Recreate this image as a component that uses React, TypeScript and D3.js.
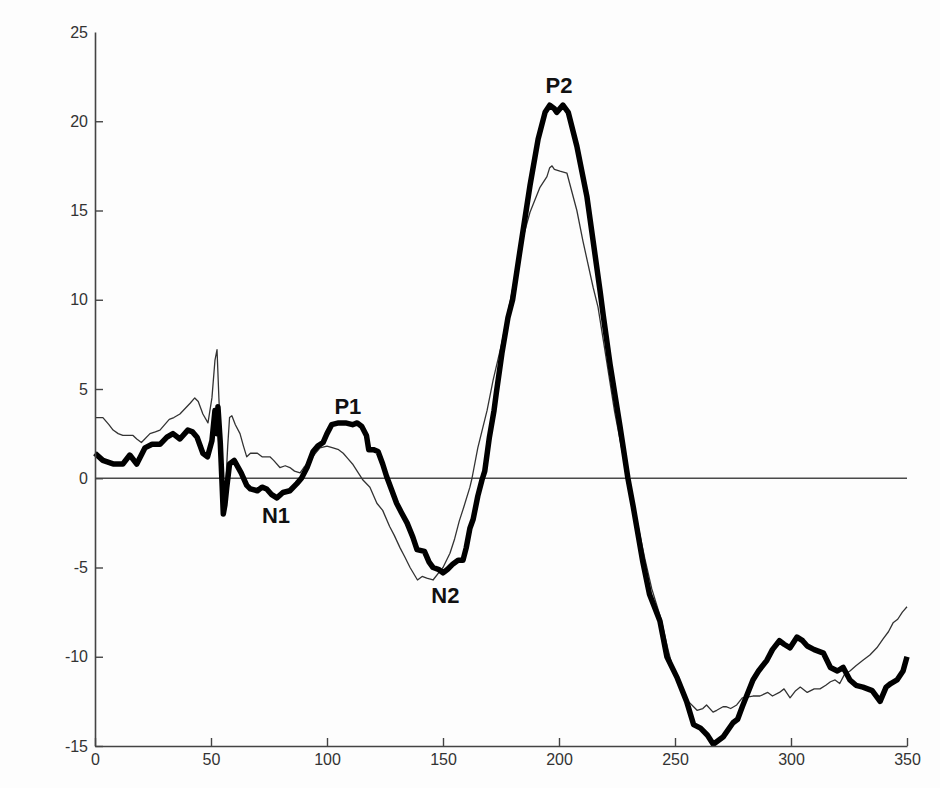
import { useEffect, useRef } from 'react';
import * as d3 from 'd3';

// [latency (ms), amplitude]
const thickWave: [number, number][] = [
  [0, 1.4], [3.4, 1.0], [7.8, 0.8], [12, 0.8], [15, 1.3], [18, 0.8], [21.5, 1.7], [24.6, 1.9],
  [28, 1.9], [31, 2.3], [33.6, 2.5], [36.6, 2.2], [40, 2.7], [42, 2.6], [44, 2.3], [46.5, 1.4],
  [48.5, 1.2], [50.4, 2.1], [51.7, 3.8], [52.5, 2.5], [53, 4.0], [54, 2.0], [54.7, -0.1], [55.3, -2.0],
  [56, -1.5], [56.8, -0.5], [58, 0.8], [60, 1.0], [63, 0.3], [65.4, -0.4], [67, -0.6], [70, -0.7],
  [72, -0.5], [74, -0.6], [76, -0.9], [78.4, -1.1], [81, -0.8], [84, -0.7], [87, -0.3], [89, 0.0],
  [91.4, 0.6], [94, 1.5], [96, 1.8], [98.3, 2.0], [100, 2.5], [102, 3.0], [105, 3.1], [108, 3.1],
  [111, 3.0], [113, 3.1], [115, 2.9], [117, 2.4], [118, 1.6], [120, 1.6], [122, 1.5], [124, 0.8],
  [125.7, 0.1], [128, -0.7], [130, -1.4], [132, -1.9], [134.5, -2.5], [137, -3.3], [138.8, -4.0],
  [142, -4.1], [144, -4.7], [145.7, -5.0], [148, -5.1], [150, -5.3], [152, -5.1], [154.3, -4.8],
  [156.5, -4.6], [158.6, -4.6], [160, -3.9], [161.6, -2.8], [163, -2.3], [165, -1.0], [166.8, -0.1],
  [168, 0.4], [170, 2.3], [172, 3.8], [173, 4.8], [175.4, 7.0], [178, 9.0], [180, 10.0], [183, 12.6],
  [187.5, 16.4], [191, 19.0], [194, 20.5], [196, 20.9], [198, 20.7], [199, 20.5], [201.7, 20.9],
  [204, 20.5], [207.7, 18.6], [212, 15.8], [214.7, 13.3], [217.7, 10.5], [219, 9.2], [222, 6.4],
  [226.3, 2.9], [229.7, 0.0], [232, -1.6], [236, -4.6], [239, -6.5], [243.5, -8.0], [246.5, -10.0],
  [251, -11.2], [255, -12.5], [258, -13.8], [261, -14.0], [264, -14.4], [266.5, -14.9], [270.7, -14.5],
  [275, -13.7], [277, -13.5], [279, -12.8], [283.6, -11.3], [286, -10.8], [289.6, -10.2], [292, -9.6],
  [295, -9.1], [297, -9.3], [299.6, -9.5], [302.6, -8.9], [305, -9.1], [307, -9.4], [310, -9.6],
  [314, -9.8], [317, -10.6], [320, -10.8], [322.5, -10.6], [325.4, -11.3], [328, -11.6], [331, -11.7],
  [335, -11.9], [338.4, -12.5], [341, -11.7], [343, -11.5], [345.7, -11.3], [348.3, -10.8], [350, -10.0],
];

const thinWave: [number, number][] = [
  [0, 3.4], [3.4, 3.4], [6, 3.0], [7.8, 2.7], [10, 2.5], [12, 2.4], [16.4, 2.4], [18, 2.2], [20, 2.0],
  [23.7, 2.5], [26, 2.6], [28, 2.7], [32, 3.3], [34, 3.4], [36.6, 3.6], [41, 4.2], [43, 4.5], [44.5, 4.3],
  [46.5, 3.6], [48.7, 3.1], [50.4, 4.5], [51.7, 6.6], [52.6, 7.2], [53.4, 4.5], [54.7, 0.8], [55.5, -1.2],
  [56.3, -0.5], [57.2, 1.8], [58, 3.4], [59, 3.5], [60.5, 3.0], [62.5, 2.5], [64, 1.8], [65.4, 1.2],
  [67, 1.4], [70, 1.4], [72, 1.2], [75.4, 1.2], [77, 1.0], [79.7, 0.6], [82, 0.7], [84, 0.6], [86, 0.4],
  [88.4, 0.3], [90, 0.6], [92.7, 1.0], [95, 1.4], [97, 1.7], [100, 1.8], [102.6, 1.7], [105, 1.6],
  [107, 1.4], [109, 1.1], [111, 0.8], [113, 0.4], [115.5, -0.1], [118.5, -0.5], [121.5, -1.4],
  [124, -1.8], [127, -2.7], [129, -3.2], [131.5, -3.9], [133.5, -4.4], [135.8, -5.0], [139, -5.7],
  [141, -5.5], [143, -5.6], [145.7, -5.7], [148.7, -5.2], [150, -5.0], [153, -4.2], [155, -3.4],
  [157, -2.4], [159, -1.6], [161.6, -0.5], [162.5, 0.0], [165, 1.7], [169, 3.8], [171.6, 5.5],
  [175.4, 7.6], [178, 9.3], [180, 10.6], [183, 12.8], [187.5, 14.9], [191.8, 16.3], [194.8, 16.9],
  [196, 17.4], [197, 17.5], [198, 17.3], [200.4, 17.2], [203.4, 17.1], [207.7, 15.0], [210.3, 13.3],
  [214.7, 10.7], [216.8, 9.6], [220, 7.0], [224, 3.7], [229.5, 0.0], [233, -2.0], [237, -4.5],
  [240, -6.2], [244, -7.9], [247, -9.6], [249, -10.6], [252, -11.6], [255, -12.4], [258, -12.8],
  [259.5, -13.0], [262, -12.9], [263.6, -12.7], [266.4, -13.1], [268, -13.0], [270.7, -12.8],
  [272, -12.8], [274, -12.9], [276.6, -12.7], [279, -12.3], [283.6, -12.2], [286.6, -12.2], [290, -12.0],
  [292, -12.2], [295, -12.0], [297, -11.8], [299.6, -12.3], [302, -11.9], [304, -11.7], [307, -12.0],
  [310, -11.8], [312.5, -11.8], [315, -11.6], [317, -11.4], [319, -11.3], [321, -11.5], [323, -11.0],
  [325.4, -10.8], [328, -10.5], [331, -10.2], [334, -9.9], [337, -9.5], [339.7, -9.0], [342, -8.6],
  [344, -8.1], [346, -7.9], [348, -7.5], [350, -7.2],
];

const xTicks = [0, 50, 100, 150, 200, 250, 300, 350];
const yTicks = [-15, -10, -5, 0, 5, 10, 15, 20, 25];

// peak labels: [label, latency, amplitude where the text baseline sits]
const peakLabels: [string, number, number][] = [
  ['P1', 109, 3.6],
  ['N1', 78, -2.5],
  ['N2', 151, -7.0],
  ['P2', 200, 21.6],
];

const App = () => {
  const chartRef = useRef<SVGSVGElement>(null);

  useEffect(() => {
    const width = 940;
    const height = 788;
    const margin = { top: 32, right: 33, bottom: 42, left: 95 };

    const svg = d3.select(chartRef.current);
    svg.selectAll('*').remove();

    const x = d3.scaleLinear().domain([0, 350]).range([margin.left, width - margin.right]);
    const y = d3.scaleLinear().domain([-15, 25]).range([height - margin.bottom, margin.top]);

    svg.append('rect').attr('width', width).attr('height', height).attr('fill', '#fdfdfd');

    // zero line
    svg.append('line')
      .attr('x1', x(0)).attr('x2', x(350))
      .attr('y1', y(0)).attr('y2', y(0))
      .attr('stroke', '#4a4a4a')
      .attr('stroke-width', 1.5);

    const line = d3.line<[number, number]>()
      .x(d => x(d[0]))
      .y(d => y(d[1]));

    svg.append('path')
      .datum(thinWave)
      .attr('d', line)
      .attr('fill', 'none')
      .attr('stroke', '#333')
      .attr('stroke-width', 1.3)
      .attr('stroke-linejoin', 'round');

    svg.append('path')
      .datum(thickWave)
      .attr('d', line)
      .attr('fill', 'none')
      .attr('stroke', '#000')
      .attr('stroke-width', 5.5)
      .attr('stroke-linejoin', 'round');

    // axes, ticks pointing inward like the original
    const font = '"Liberation Sans", Arial, sans-serif';

    const xAxis = svg.append('g')
      .attr('transform', `translate(0,${y(-15)})`)
      .call(d3.axisBottom(x).tickValues(xTicks).tickFormat(d => String(d))
        .tickSize(-8).tickSizeOuter(0).tickPadding(8));

    const yAxis = svg.append('g')
      .attr('transform', `translate(${x(0)},0)`)
      .call(d3.axisLeft(y).tickValues(yTicks).tickFormat(d => String(d))
        .tickSize(-8).tickSizeOuter(0).tickPadding(7));

    yAxis.selectAll<SVGGElement, number>('.tick').filter(d => d === 25).select('line').remove();

    [xAxis, yAxis].forEach(g => {
      g.select('.domain').attr('stroke', '#444').attr('stroke-width', 1.6);
      g.selectAll('.tick line').attr('stroke', '#444').attr('stroke-width', 1.4);
      g.selectAll('.tick text')
        .attr('fill', '#333')
        .style('font-family', font)
        .style('font-size', '16px');
    });

    svg.selectAll('.peak')
      .data(peakLabels)
      .enter()
      .append('text')
      .attr('class', 'peak')
      .attr('x', d => x(d[1]))
      .attr('y', d => y(d[2]))
      .attr('text-anchor', 'middle')
      .style('font-family', font)
      .style('font-size', '22px')
      .style('font-weight', 'bold')
      .attr('fill', '#111')
      .text(d => d[0]);
  }, []);

  return (
    <svg
      ref={chartRef}
      width={940}
      height={788}
      style={{ position: 'absolute', left: 0, top: 0 }}
    />
  );
};

export default App;
